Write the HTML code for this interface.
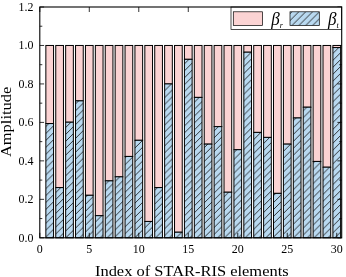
<!DOCTYPE html><html><head><meta charset="utf-8"><style>html,body{margin:0;padding:0;background:#fff}svg{display:block}text{font-family:"Liberation Serif",serif;fill:#000}svg{will-change:transform;opacity:0.999}</style></head><body>
<svg width="346" height="277" viewBox="0 0 346 277">
<defs><pattern id="h" patternUnits="userSpaceOnUse" width="6.9" height="6.9"><rect width="6.9" height="6.9" fill="#b9d9f0"/><path d="M-1 7.9L7.9 -1M-1 1L1 -1M5.9 7.9L7.9 5.9" stroke="#141414" stroke-width="0.85" fill="none"/></pattern></defs>
<rect width="346" height="277" fill="#fff"/>
<rect x="45.85" y="45.47" width="7.70" height="78.09" fill="#fbd3d3" stroke="#000" stroke-width="1.00"/>
<rect x="45.85" y="123.55" width="7.70" height="114.25" fill="url(#h)" stroke="#000" stroke-width="1.00"/>
<rect x="55.75" y="45.47" width="7.70" height="142.13" fill="#fbd3d3" stroke="#000" stroke-width="1.00"/>
<rect x="55.75" y="187.60" width="7.70" height="50.20" fill="url(#h)" stroke="#000" stroke-width="1.00"/>
<rect x="65.65" y="45.47" width="7.70" height="76.74" fill="#fbd3d3" stroke="#000" stroke-width="1.00"/>
<rect x="65.65" y="122.21" width="7.70" height="115.59" fill="url(#h)" stroke="#000" stroke-width="1.00"/>
<rect x="75.54" y="45.47" width="7.70" height="55.39" fill="#fbd3d3" stroke="#000" stroke-width="1.00"/>
<rect x="75.54" y="100.86" width="7.70" height="136.94" fill="url(#h)" stroke="#000" stroke-width="1.00"/>
<rect x="85.44" y="45.47" width="7.70" height="149.83" fill="#fbd3d3" stroke="#000" stroke-width="1.00"/>
<rect x="85.44" y="195.29" width="7.70" height="42.51" fill="url(#h)" stroke="#000" stroke-width="1.00"/>
<rect x="95.34" y="45.47" width="7.70" height="170.22" fill="#fbd3d3" stroke="#000" stroke-width="1.00"/>
<rect x="95.34" y="215.68" width="7.70" height="22.12" fill="url(#h)" stroke="#000" stroke-width="1.00"/>
<rect x="105.24" y="45.47" width="7.70" height="135.40" fill="#fbd3d3" stroke="#000" stroke-width="1.00"/>
<rect x="105.24" y="180.87" width="7.70" height="56.93" fill="url(#h)" stroke="#000" stroke-width="1.00"/>
<rect x="115.14" y="45.47" width="7.70" height="131.36" fill="#fbd3d3" stroke="#000" stroke-width="1.00"/>
<rect x="115.14" y="176.83" width="7.70" height="60.97" fill="url(#h)" stroke="#000" stroke-width="1.00"/>
<rect x="125.04" y="45.47" width="7.70" height="110.98" fill="#fbd3d3" stroke="#000" stroke-width="1.00"/>
<rect x="125.04" y="156.44" width="7.70" height="81.36" fill="url(#h)" stroke="#000" stroke-width="1.00"/>
<rect x="134.93" y="45.47" width="7.70" height="94.82" fill="#fbd3d3" stroke="#000" stroke-width="1.00"/>
<rect x="134.93" y="140.29" width="7.70" height="97.51" fill="url(#h)" stroke="#000" stroke-width="1.00"/>
<rect x="144.83" y="45.47" width="7.70" height="175.99" fill="#fbd3d3" stroke="#000" stroke-width="1.00"/>
<rect x="144.83" y="221.45" width="7.70" height="16.35" fill="url(#h)" stroke="#000" stroke-width="1.00"/>
<rect x="154.73" y="45.47" width="7.70" height="142.13" fill="#fbd3d3" stroke="#000" stroke-width="1.00"/>
<rect x="154.73" y="187.60" width="7.70" height="50.20" fill="url(#h)" stroke="#000" stroke-width="1.00"/>
<rect x="164.63" y="45.47" width="7.70" height="38.47" fill="#fbd3d3" stroke="#000" stroke-width="1.00"/>
<rect x="164.63" y="83.93" width="7.70" height="153.87" fill="url(#h)" stroke="#000" stroke-width="1.00"/>
<rect x="174.53" y="45.47" width="7.70" height="186.76" fill="#fbd3d3" stroke="#000" stroke-width="1.00"/>
<rect x="174.53" y="232.22" width="7.70" height="5.58" fill="url(#h)" stroke="#000" stroke-width="1.00"/>
<rect x="184.43" y="45.47" width="7.70" height="13.85" fill="#fbd3d3" stroke="#000" stroke-width="1.00"/>
<rect x="184.43" y="59.31" width="7.70" height="178.49" fill="url(#h)" stroke="#000" stroke-width="1.00"/>
<rect x="194.32" y="45.47" width="7.70" height="51.93" fill="#fbd3d3" stroke="#000" stroke-width="1.00"/>
<rect x="194.32" y="97.40" width="7.70" height="140.40" fill="url(#h)" stroke="#000" stroke-width="1.00"/>
<rect x="204.22" y="45.47" width="7.70" height="98.67" fill="#fbd3d3" stroke="#000" stroke-width="1.00"/>
<rect x="204.22" y="144.13" width="7.70" height="93.67" fill="url(#h)" stroke="#000" stroke-width="1.00"/>
<rect x="214.12" y="45.47" width="7.70" height="81.16" fill="#fbd3d3" stroke="#000" stroke-width="1.00"/>
<rect x="214.12" y="126.63" width="7.70" height="111.17" fill="url(#h)" stroke="#000" stroke-width="1.00"/>
<rect x="224.02" y="45.47" width="7.70" height="146.75" fill="#fbd3d3" stroke="#000" stroke-width="1.00"/>
<rect x="224.02" y="192.22" width="7.70" height="45.58" fill="url(#h)" stroke="#000" stroke-width="1.00"/>
<rect x="233.92" y="45.47" width="7.70" height="104.24" fill="#fbd3d3" stroke="#000" stroke-width="1.00"/>
<rect x="233.92" y="149.71" width="7.70" height="88.09" fill="url(#h)" stroke="#000" stroke-width="1.00"/>
<rect x="243.82" y="45.47" width="7.70" height="6.73" fill="#fbd3d3" stroke="#000" stroke-width="1.00"/>
<rect x="243.82" y="52.20" width="7.70" height="185.60" fill="url(#h)" stroke="#000" stroke-width="1.00"/>
<rect x="253.71" y="45.47" width="7.70" height="86.93" fill="#fbd3d3" stroke="#000" stroke-width="1.00"/>
<rect x="253.71" y="132.40" width="7.70" height="105.40" fill="url(#h)" stroke="#000" stroke-width="1.00"/>
<rect x="263.61" y="45.47" width="7.70" height="91.94" fill="#fbd3d3" stroke="#000" stroke-width="1.00"/>
<rect x="263.61" y="137.40" width="7.70" height="100.40" fill="url(#h)" stroke="#000" stroke-width="1.00"/>
<rect x="273.51" y="45.47" width="7.70" height="147.90" fill="#fbd3d3" stroke="#000" stroke-width="1.00"/>
<rect x="273.51" y="193.37" width="7.70" height="44.43" fill="url(#h)" stroke="#000" stroke-width="1.00"/>
<rect x="283.41" y="45.47" width="7.70" height="98.67" fill="#fbd3d3" stroke="#000" stroke-width="1.00"/>
<rect x="283.41" y="144.13" width="7.70" height="93.67" fill="url(#h)" stroke="#000" stroke-width="1.00"/>
<rect x="293.31" y="45.47" width="7.70" height="72.51" fill="#fbd3d3" stroke="#000" stroke-width="1.00"/>
<rect x="293.31" y="117.98" width="7.70" height="119.82" fill="url(#h)" stroke="#000" stroke-width="1.00"/>
<rect x="303.21" y="45.47" width="7.70" height="61.74" fill="#fbd3d3" stroke="#000" stroke-width="1.00"/>
<rect x="303.21" y="107.21" width="7.70" height="130.59" fill="url(#h)" stroke="#000" stroke-width="1.00"/>
<rect x="313.10" y="45.47" width="7.70" height="115.98" fill="#fbd3d3" stroke="#000" stroke-width="1.00"/>
<rect x="313.10" y="161.44" width="7.70" height="76.36" fill="url(#h)" stroke="#000" stroke-width="1.00"/>
<rect x="323.00" y="45.47" width="7.70" height="121.75" fill="#fbd3d3" stroke="#000" stroke-width="1.00"/>
<rect x="323.00" y="167.21" width="7.70" height="70.59" fill="url(#h)" stroke="#000" stroke-width="1.00"/>
<rect x="332.90" y="45.47" width="7.70" height="2.12" fill="#fbd3d3" stroke="#000" stroke-width="1.00"/>
<rect x="332.90" y="47.58" width="7.70" height="190.22" fill="url(#h)" stroke="#000" stroke-width="1.00"/>
<path d="M39.80 237.80h4.30M341.70 237.80h-4.30M39.80 218.57h2.50M341.70 218.57h-2.50M39.80 199.33h4.30M341.70 199.33h-4.30M39.80 180.10h2.50M341.70 180.10h-2.50M39.80 160.87h4.30M341.70 160.87h-4.30M39.80 141.63h2.50M341.70 141.63h-2.50M39.80 122.40h4.30M341.70 122.40h-4.30M39.80 103.17h2.50M341.70 103.17h-2.50M39.80 83.93h4.30M341.70 83.93h-4.30M39.80 64.70h2.50M341.70 64.70h-2.50M39.80 45.47h4.30M341.70 45.47h-4.30M39.80 26.23h2.50M341.70 26.23h-2.50M39.80 7.00h4.30M341.70 7.00h-4.30M39.80 237.80v-5M39.80 7.00v5M89.29 237.80v-5M89.29 7.00v5M138.78 237.80v-5M138.78 7.00v5M188.28 237.80v-5M188.28 7.00v5M237.77 237.80v-5M237.77 7.00v5M287.26 237.80v-5M287.26 7.00v5M336.75 237.80v-5M336.75 7.00v5" stroke="#000" stroke-width="0.8" fill="none"/>
<rect x="231" y="7.00" width="110.70" height="22.4" fill="#fff" stroke="#000" stroke-width="0.7"/>
<rect x="233.3" y="11.8" width="29.3" height="13.6" fill="#fbd3d3" stroke="#000" stroke-width="0.7"/>
<rect x="290" y="11.8" width="29.3" height="13.6" fill="url(#h)" stroke="#000" stroke-width="0.7"/>
<text transform="translate(271.2 24.9) scale(0.96 1)" font-size="17.8" font-style="italic">β<tspan font-size="8.5" dy="3.1">r</tspan></text>
<text transform="translate(327.9 24.9) scale(0.96 1)" font-size="17.8" font-style="italic">β<tspan font-size="8.5" dy="3.1">t</tspan></text>
<rect x="39.80" y="7.00" width="301.90" height="230.80" fill="none" stroke="#000" stroke-width="1.1"/>
<text transform="translate(33.4 241.70) scale(1.04 1)" font-size="11.5" text-anchor="end">0.0</text>
<text transform="translate(33.4 203.23) scale(1.04 1)" font-size="11.5" text-anchor="end">0.2</text>
<text transform="translate(33.4 164.77) scale(1.04 1)" font-size="11.5" text-anchor="end">0.4</text>
<text transform="translate(33.4 126.30) scale(1.04 1)" font-size="11.5" text-anchor="end">0.6</text>
<text transform="translate(33.4 87.83) scale(1.04 1)" font-size="11.5" text-anchor="end">0.8</text>
<text transform="translate(33.4 49.37) scale(1.04 1)" font-size="11.5" text-anchor="end">1.0</text>
<text transform="translate(33.4 10.90) scale(1.04 1)" font-size="11.5" text-anchor="end">1.2</text>
<text transform="translate(39.80 252.6) scale(1.04 1)" font-size="11.5" text-anchor="middle">0</text>
<text transform="translate(89.29 252.6) scale(1.04 1)" font-size="11.5" text-anchor="middle">5</text>
<text transform="translate(138.78 252.6) scale(1.04 1)" font-size="11.5" text-anchor="middle">10</text>
<text transform="translate(188.28 252.6) scale(1.04 1)" font-size="11.5" text-anchor="middle">15</text>
<text transform="translate(237.77 252.6) scale(1.04 1)" font-size="11.5" text-anchor="middle">20</text>
<text transform="translate(287.26 252.6) scale(1.04 1)" font-size="11.5" text-anchor="middle">25</text>
<text transform="translate(336.75 252.6) scale(1.04 1)" font-size="11.5" text-anchor="middle">30</text>
<text transform="translate(191.8 275.9) scale(1.09 1)" font-size="15.1" text-anchor="middle">Index of STAR-RIS elements</text>
<text transform="translate(11.3 121.9) rotate(-90) scale(1.09 1)" font-size="15.1" text-anchor="middle">Amplitude</text>
</svg></body></html>
